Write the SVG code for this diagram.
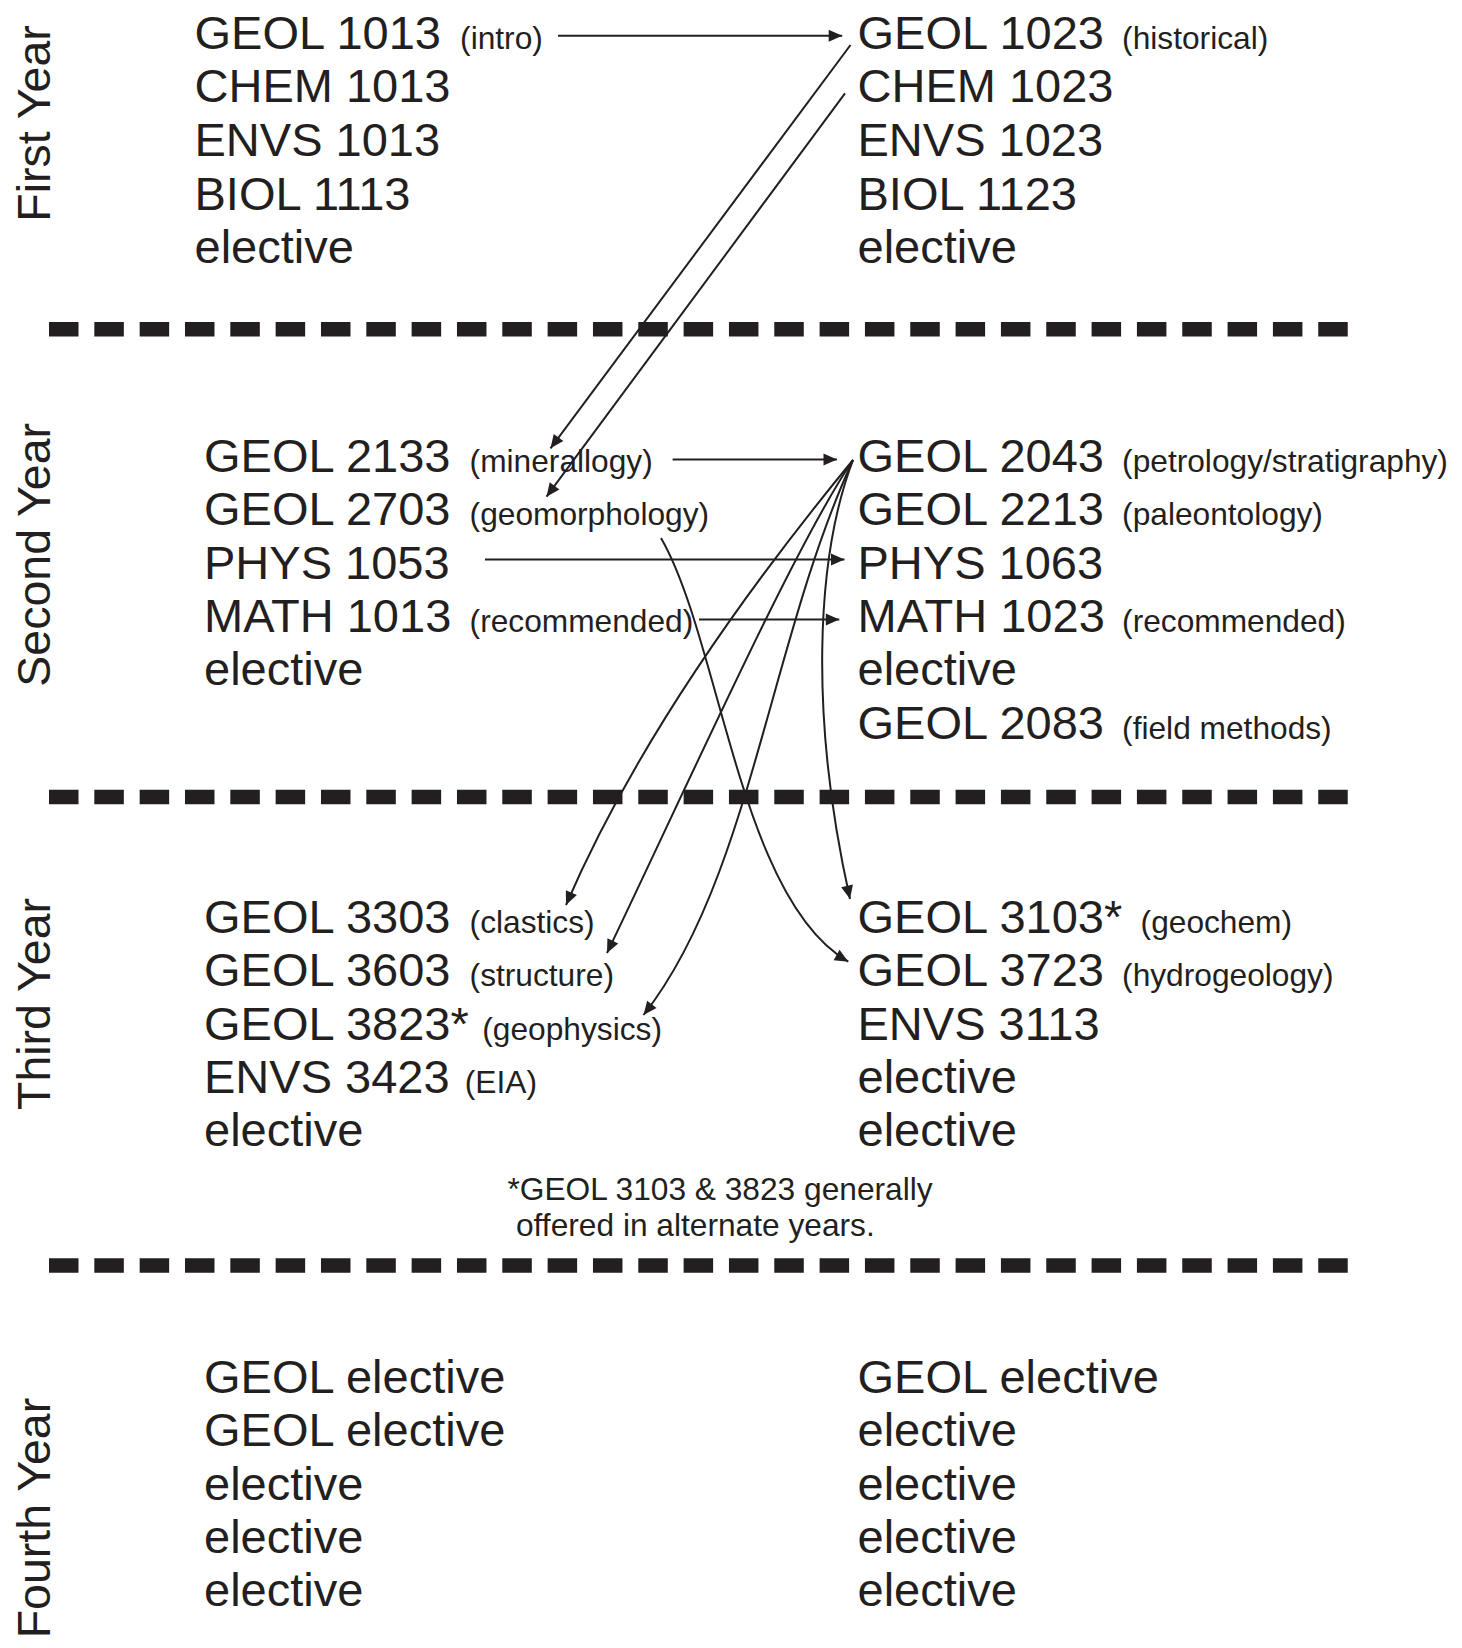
<svg xmlns="http://www.w3.org/2000/svg" width="1462" height="1648" viewBox="0 0 1462 1648">
<style>
text{font-family:"Liberation Sans",Arial,Helvetica,sans-serif;fill:#231f20}
.c{font-size:47px}
.p{font-size:31.7px}
.yr{font-size:46.5px}
.fn{font-size:31.7px}
.dash{stroke:#231f20;stroke-width:14.5;stroke-dasharray:29.5 15.83;fill:none}
.ln{stroke:#231f20;stroke-width:2;fill:none;marker-end:url(#ah)}
</style>
<defs>
<marker id="ah" markerWidth="15" markerHeight="13" refX="13.5" refY="6" orient="auto" markerUnits="userSpaceOnUse" overflow="visible">
<path d="M0,0 L13.5,6 L0,12 Z" fill="#231f20"/>
</marker>
</defs>
<rect width="1462" height="1648" fill="#ffffff"/>

<g id="dividers">
<line class="dash" x1="49" y1="329.2" x2="1348" y2="329.2"/>
<line class="dash" x1="49" y1="797" x2="1348" y2="797"/>
<line class="dash" x1="49" y1="1265.5" x2="1348" y2="1265.5"/>
</g>

<g id="year-labels">
<text class="yr" transform="translate(50,221.7) rotate(-90)">First Year</text>
<text class="yr" transform="translate(50,686.7) rotate(-90)">Second Year</text>
<text class="yr" transform="translate(50,1110) rotate(-90)">Third Year</text>
<text class="yr" transform="translate(50,1638.3) rotate(-90)">Fourth Year</text>
</g>

<!-- First year -->
<g id="geol1013"><text class="c" x="194.5" y="48.5">GEOL 1013</text><text class="p" x="460.1" y="48.5">(intro)</text></g>
<g id="chem1013"><text class="c" x="194.5" y="102.2">CHEM 1013</text></g>
<g id="envs1013"><text class="c" x="194.5" y="155.9">ENVS 1013</text></g>
<g id="biol1113"><text class="c" x="194.5" y="209.6">BIOL 1113</text></g>
<g id="y1-elective-l"><text class="c" x="194.5" y="263.3">elective</text></g>

<g id="geol1023"><text class="c" x="857.5" y="48.5">GEOL 1023</text><text class="p" x="1122.1" y="48.5">(historical)</text></g>
<g id="chem1023"><text class="c" x="857.5" y="102.2">CHEM 1023</text></g>
<g id="envs1023"><text class="c" x="857.5" y="155.9">ENVS 1023</text></g>
<g id="biol1123"><text class="c" x="857.5" y="209.6">BIOL 1123</text></g>
<g id="y1-elective-r"><text class="c" x="857.5" y="263.3">elective</text></g>

<!-- Second year -->
<g id="geol2133"><text class="c" x="204" y="471.7">GEOL 2133</text><text class="p" x="469.6" y="471.7">(minerallogy)</text></g>
<g id="geol2703"><text class="c" x="204" y="525.1">GEOL 2703</text><text class="p" x="469.6" y="525.1">(geomorphology)</text></g>
<g id="phys1053"><text class="c" x="204" y="578.5">PHYS 1053</text></g>
<g id="math1013"><text class="c" x="204" y="631.9">MATH 1013</text><text class="p" x="469.6" y="631.9">(recommended)</text></g>
<g id="y2-elective-l"><text class="c" x="204" y="685.3">elective</text></g>

<g id="geol2043"><text class="c" x="857.5" y="471.7">GEOL 2043</text><text class="p" x="1122.1" y="471.7">(petrology/stratigraphy)</text></g>
<g id="geol2213"><text class="c" x="857.5" y="525.1">GEOL 2213</text><text class="p" x="1122.1" y="525.1">(paleontology)</text></g>
<g id="phys1063"><text class="c" x="857.5" y="578.5">PHYS 1063</text></g>
<g id="math1023"><text class="c" x="857.5" y="631.9">MATH 1023</text><text class="p" x="1122.1" y="631.9">(recommended)</text></g>
<g id="y2-elective-r"><text class="c" x="857.5" y="685.3">elective</text></g>
<g id="geol2083"><text class="c" x="857.5" y="738.7">GEOL 2083</text><text class="p" x="1122.1" y="738.7">(field methods)</text></g>

<!-- Third year -->
<g id="geol3303"><text class="c" x="204" y="932.7">GEOL 3303</text><text class="p" x="469.6" y="932.7">(clastics)</text></g>
<g id="geol3603"><text class="c" x="204" y="986.1">GEOL 3603</text><text class="p" x="469.6" y="986.1">(structure)</text></g>
<g id="geol3823"><text class="c" x="204" y="1039.5">GEOL 3823*</text><text class="p" x="482.3" y="1039.5">(geophysics)</text></g>
<g id="envs3423"><text class="c" x="204" y="1092.9">ENVS 3423</text><text class="p" x="464.8" y="1092.9">(EIA)</text></g>
<g id="y3-elective-l"><text class="c" x="204" y="1146.3">elective</text></g>

<g id="geol3103"><text class="c" x="857.5" y="932.7">GEOL 3103*</text><text class="p" x="1140.6" y="932.7">(geochem)</text></g>
<g id="geol3723"><text class="c" x="857.5" y="986.1">GEOL 3723</text><text class="p" x="1122.1" y="986.1">(hydrogeology)</text></g>
<g id="envs3113"><text class="c" x="857.5" y="1039.5">ENVS 3113</text></g>
<g id="y3-elective-r1"><text class="c" x="857.5" y="1092.9">elective</text></g>
<g id="y3-elective-r2"><text class="c" x="857.5" y="1146.3">elective</text></g>

<g id="footnote">
<text class="fn" x="507.5" y="1199.5">*GEOL 3103 &amp; 3823 generally</text>
<text class="fn" x="516" y="1236">offered in alternate years.</text>
</g>

<!-- Fourth year -->
<g id="y4-geol-elective-l1"><text class="c" x="204" y="1392.7">GEOL elective</text></g>
<g id="y4-geol-elective-l2"><text class="c" x="204" y="1446.1">GEOL elective</text></g>
<g id="y4-elective-l3"><text class="c" x="204" y="1499.5">elective</text></g>
<g id="y4-elective-l4"><text class="c" x="204" y="1552.9">elective</text></g>
<g id="y4-elective-l5"><text class="c" x="204" y="1606.3">elective</text></g>

<g id="y4-geol-elective-r1"><text class="c" x="857.5" y="1392.7">GEOL elective</text></g>
<g id="y4-elective-r2"><text class="c" x="857.5" y="1446.1">elective</text></g>
<g id="y4-elective-r3"><text class="c" x="857.5" y="1499.5">elective</text></g>
<g id="y4-elective-r4"><text class="c" x="857.5" y="1552.9">elective</text></g>
<g id="y4-elective-r5"><text class="c" x="857.5" y="1606.3">elective</text></g>

<g id="connectors">
<path class="ln" d="M558,35.8 L842.2,35.8"/>
<path class="ln" d="M850.5,45 L550.5,448.3"/>
<path class="ln" d="M845,93.3 L546.5,496.7"/>
<path class="ln" d="M672.6,459.5 L837,459.5"/>
<path class="ln" d="M485,559.5 L844.5,559.5"/>
<path class="ln" d="M699,619.5 L839.3,619.5"/>
<path class="ln" d="M661,538 C720,640 740,900 848.3,961.7"/>
<path class="ln" d="M853,460 C750,585 635,745 566,905"/>
<path class="ln" d="M853,460 C795,545 690,780 607,953"/>
<path class="ln" d="M853,460 C770,640 750,880 643.5,1015"/>
<path class="ln" d="M853,460 C815,560 810,720 850,899"/>
</g>
</svg>
